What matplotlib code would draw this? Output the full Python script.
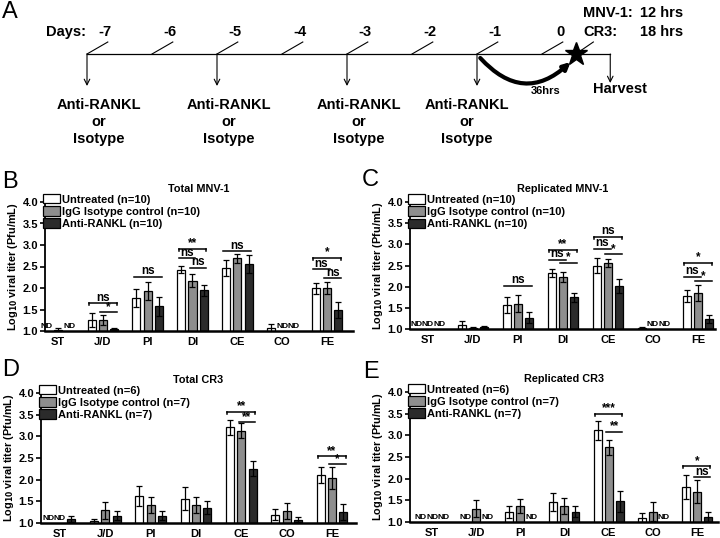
import matplotlib
matplotlib.use('Agg')
import matplotlib.pyplot as plt
from matplotlib.patches import Patch

plt.rcParams['font.family'] = ['Liberation Sans', 'DejaVu Sans']
plt.rcParams['font.weight'] = 'bold'
plt.rcParams['axes.titleweight'] = 'bold'
plt.rcParams['axes.labelweight'] = 'bold'

# ---- data -------------------------------------------------------------
groups = ['ST', 'J/D', 'PI', 'DI', 'CE', 'CO', 'FE']
days = [-7, -6, -5, -4, -3, -2, -1, 0]
dose_days = [-7, -5, -3, -1]
infect_day = 0.52
harvest_day = 1.05

# B: total MNV-1 (None = not detected)
b_untreated = [None, 1.26, 1.76, 2.43, 2.47, 1.07, 1.99]
b_untreated_err = [0, 0.16, 0.21, 0.08, 0.18, 0.09, 0.13]
b_isotype = [1.03, 1.25, 1.93, 2.17, 2.69, None, 2.00]
b_isotype_err = [0.03, 0.12, 0.22, 0.15, 0.10, 0, 0.14]
b_anti = [None, 1.04, 1.58, 1.95, 2.56, None, 1.49]
b_anti_err = [0, 0.02, 0.22, 0.13, 0.21, 0, 0.18]
b_sig = [(1, 0, 2, 1.65, 'ns', True), (1, 1, 2, 1.44, '*', False),
         (2, 0, 2, 2.26, 'ns', False),
         (3, 0, 2, 2.91, '**', True), (3, 0, 1, 2.70, 'ns', False), (3, 1, 2, 2.47, 'ns', False),
         (4, 0, 2, 2.86, 'ns', False),
         (6, 0, 2, 2.70, '*', True), (6, 0, 1, 2.44, 'ns', False), (6, 1, 2, 2.23, 'ns', False)]

# C: replicated MNV-1
c_untreated = [None, 1.09, 1.57, 2.33, 2.50, 1.03, 1.78]
c_untreated_err = [0, 0.09, 0.19, 0.09, 0.17, 0.02, 0.15]
c_isotype = [None, 1.02, 1.60, 2.23, 2.56, None, 1.86]
c_isotype_err = [0, 0.02, 0.21, 0.12, 0.10, 0, 0.19]
c_anti = [None, 1.05, 1.26, 1.75, 2.01, None, 1.23]
c_anti_err = [0, 0.03, 0.13, 0.11, 0.16, 0, 0.09]
c_sig = [(2, 0, 2, 2.02, 'ns', False),
         (3, 0, 2, 2.87, '**', True), (3, 0, 1, 2.64, 'ns', False), (3, 1, 2, 2.56, '*', False),
         (4, 0, 2, 3.18, 'ns', True), (4, 0, 1, 2.90, 'ns', False), (4, 1, 2, 2.76, '*', False),
         (6, 0, 2, 2.56, '*', True), (6, 0, 1, 2.24, 'ns', False), (6, 1, 2, 2.13, '*', False)]

# D: total CR3
d_untreated = [None, 1.05, 1.62, 1.56, 3.21, 1.19, 2.11]
d_untreated_err = [0, 0.05, 0.23, 0.27, 0.17, 0.13, 0.19]
d_isotype = [None, 1.29, 1.42, 1.42, 3.13, 1.28, 2.04]
d_isotype_err = [0, 0.19, 0.19, 0.19, 0.17, 0.19, 0.25]
d_anti = [1.09, 1.17, 1.17, 1.35, 2.25, 1.08, 1.25]
d_anti_err = [0.06, 0.11, 0.10, 0.15, 0.17, 0.06, 0.18]
d_sig = [(4, 0, 2, 3.57, '**', True), (4, 1, 2, 3.33, '**', False),
         (6, 0, 2, 2.54, '**', True), (6, 1, 2, 2.36, '*', False)]

# E: replicated CR3
e_untreated = [None, None, 1.23, 1.46, 3.12, 1.10, 1.81]
e_untreated_err = [0, 0, 0.13, 0.21, 0.22, 0.10, 0.27]
e_isotype = [None, 1.31, 1.37, 1.37, 2.72, 1.24, 1.70]
e_isotype_err = [0, 0.19, 0.17, 0.19, 0.17, 0.22, 0.26]
e_anti = [None, None, None, 1.24, 1.48, None, 1.12]
e_anti_err = [0, 0, 0, 0.12, 0.24, 0, 0.11]
e_sig = [(4, 0, 2, 3.50, '***', True), (4, 1, 2, 3.08, '**', False),
         (6, 0, 2, 2.29, '*', True), (6, 1, 2, 2.04, 'ns', False)]

colors = ['white', '#8e8e8e', '#2b2b2b']
offs = [-0.25, 0, 0.25]
bw = 0.18

fig = plt.figure(figsize=(7.2, 5.38), dpi=100)

# ---- panel A: timeline -----------------------------------------------
ta = fig.add_axes([0, 1 - 160 / 538, 1, 160 / 538])
ta.set_xlim(-87 / 65 - 7, 633 / 65 - 7)
ta.set_ylim(160, 0)
ta.axis('off')

ta.plot([days[0], harvest_day], [54, 54], color='k', lw=0.9)
for d in days:
    ta.plot([d, d + 0.32], [54, 42], color='k', lw=0.8)
    ta.text(d + 0.28, 32, str(d), ha='center', va='center', fontsize=10.5)
ta.text(days[0] - 0.02, 32, 'Days:', ha='right', va='center', fontsize=10.5)
for k, d in enumerate(dose_days):
    ta.annotate('', xy=(d, 86), xytext=(d, 54),
                arrowprops=dict(arrowstyle='->', lw=0.8, color='k', shrinkA=0, shrinkB=0))
    dx = -0.15 if k == len(dose_days) - 1 else 0.18
    ta.text(d + dx, 122, 'Anti-RANKL\nor\nIsotype', ha='center', va='center',
            fontsize=10.5, linespacing=1.25)
ta.annotate('', xy=(harvest_day, 83), xytext=(harvest_day, 54),
            arrowprops=dict(arrowstyle='->', lw=0.8, color='k', shrinkA=0, shrinkB=0))
ta.text(harvest_day + 0.15, 89, 'Harvest', ha='center', va='center', fontsize=10.5)
ta.annotate('', xy=(infect_day - 0.08, 62), xytext=(-0.95, 58),
            arrowprops=dict(arrowstyle='-|>', lw=3, color='k', mutation_scale=10,
                            connectionstyle='arc3,rad=0.5', shrinkA=0, shrinkB=0))
ta.plot(infect_day, 54, marker='*', ms=17, color='k')
ta.plot([infect_day, infect_day + 0.27], [54, 42], color='k', lw=0.8)
ta.text(0.05, 91, '36hrs', ha='center', va='center', fontsize=8)
ta.text(0.63, 13, 'MNV-1:', ha='left', va='center', fontsize=10.5)
ta.text(1.51, 13, '12 hrs', ha='left', va='center', fontsize=10.5)
ta.text(0.63, 32, 'CR3:', ha='left', va='center', fontsize=10.5)
ta.text(1.51, 32, '18 hrs', ha='left', va='center', fontsize=10.5)


# ---- bar panels -------------------------------------------------------
def panel(rect, xlim, title, series, errs, labels, sigs):
    ax = fig.add_axes(rect)
    for k in range(3):
        xs, hs, es = [], [], []
        for g in range(len(groups)):
            v = series[k][g]
            if v is None:
                ax.text(g + offs[k], 1.02, 'ND', ha='center', va='bottom', fontsize=6)
            else:
                xs.append(g + offs[k])
                hs.append(v)
                es.append(errs[k][g])
        ax.bar(xs, hs, bw, color=colors[k], edgecolor='k', lw=0.9, label=labels[k])
        ax.errorbar(xs, hs, yerr=es, fmt='none', ecolor='k', elinewidth=0.9,
                    capsize=2.5, capthick=0.9)
    for g, i, j, y, txt, tips in sigs:
        x0 = g + offs[i] - 0.06
        x1 = g + offs[j] + 0.06
        ax.plot([x0, x1], [y, y], color='k', lw=1.1)
        if tips:
            ax.plot([x0, x0], [y, y - 0.05], color='k', lw=1.1)
            ax.plot([x1, x1], [y, y - 0.05], color='k', lw=1.1)
        ax.text((x0 + x1) / 2, y - 0.015, txt, ha='center', va='bottom', fontsize=8.5)
    ax.set_xlim(*xlim)
    ax.set_ylim(1.0, 4.0)
    ax.set_yticks([1.0, 1.5, 2.0, 2.5, 3.0, 3.5, 4.0])
    ax.set_yticklabels(['%.1f' % t for t in [1.0, 1.5, 2.0, 2.5, 3.0, 3.5, 4.0]])
    ax.set_xticks(range(len(groups)))
    ax.set_xticklabels(groups)
    ax.tick_params(axis='x', length=0, pad=4, labelsize=8)
    ax.tick_params(axis='y', length=3.5, width=1.2, pad=1.5, labelsize=8)
    for s in ['top', 'right']:
        ax.spines[s].set_visible(False)
    ax.spines['left'].set_linewidth(1.3)
    ax.spines['bottom'].set_linewidth(1.8)
    ax.set_ylabel('Log$_{\\mathbf{10}}$ viral titer (Pfu/mL)', fontsize=7.8, labelpad=2)
    ax.set_title(title, fontsize=7.8, pad=7)
    handles = [Patch(facecolor=colors[k], edgecolor='k', lw=0.9) for k in range(3)]
    ax.legend(handles, labels, loc='upper left', bbox_to_anchor=(-0.005, 1.06),
              frameon=False, fontsize=8, handlelength=1.45, handleheight=0.9,
              handletextpad=0.2, labelspacing=0.15, borderaxespad=0, borderpad=0)
    return ax


labels10 = ['Untreated (n=10)', 'IgG Isotype control (n=10)', 'Anti-RANKL (n=10)']
labels67 = ['Untreated (n=6)', 'IgG Isotype control (n=7)', 'Anti-RANKL (n=7)']

panel([45 / 720, 1 - 331 / 538, 308 / 720, 129 / 538], (-0.29, 6.58), 'Total MNV-1',
      [b_untreated, b_isotype, b_anti], [b_untreated_err, b_isotype_err, b_anti_err],
      labels10, b_sig)
panel([410 / 720, 1 - 329 / 538, 305 / 720, 127 / 538], (-0.4, 6.38), 'Replicated MNV-1',
      [c_untreated, c_isotype, c_anti], [c_untreated_err, c_isotype_err, c_anti_err],
      labels10, c_sig)
panel([41 / 720, 1 - 523 / 538, 315 / 720, 130 / 538], (-0.42, 6.53), 'Total CR3',
      [d_untreated, d_isotype, d_anti], [d_untreated_err, d_isotype_err, d_anti_err],
      labels67, d_sig)
panel([410 / 720, 1 - 522 / 538, 308 / 720, 130 / 538], (-0.5, 6.48), 'Replicated CR3',
      [e_untreated, e_isotype, e_anti], [e_untreated_err, e_isotype_err, e_anti_err],
      labels67, e_sig)

# panel letters
letter_font = ['Liberation Sans Narrow', 'Liberation Sans']
for txt, px, py in [('A', 2, 12), ('B', 2, 182), ('C', 362, 180), ('D', 2, 370), ('E', 363, 372)]:
    fig.text(px / 720, 1 - py / 538, txt, ha='left', va='center', fontsize=17,
             fontweight='normal', family=letter_font)

fig.savefig('out.png', dpi=100)
